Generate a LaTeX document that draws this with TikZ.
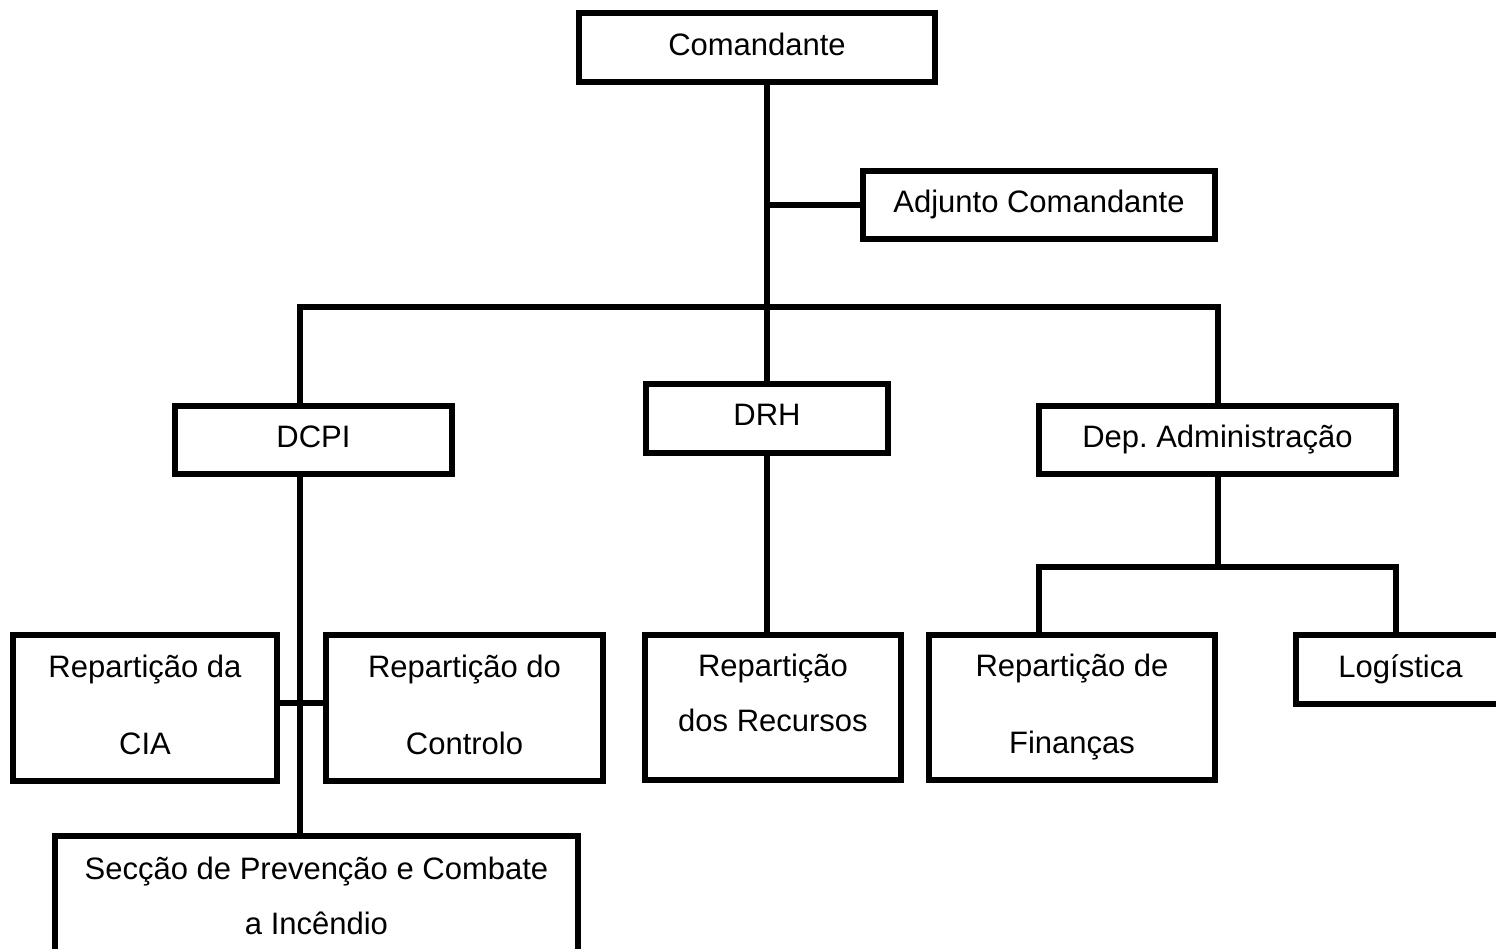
\documentclass[tikz,border=0pt]{standalone}
\usepackage{fontspec}
\setmainfont{Liberation Sans}
\usepackage{tikz}
\usepackage{xcolor}
\usetikzlibrary{positioning}

\begin{document}
\begin{tikzpicture}[x=1pt,y=1pt,
  unitBox/.style={draw=drawColor,line width=6pt,outer sep=0pt,inner sep=0pt,
    align=center,text depth=6.5pt,font=\fontsize{31}{77}\selectfont},
  tightBox/.style={unitBox,font=\fontsize{31}{55}\selectfont},
  linkLine/.style={draw=drawColor,line width=6pt,line join=miter}]
\definecolor{drawColor}{RGB}{0,0,0}
\definecolor{fillColor}{RGB}{255,255,255}
\path[use as bounding box,fill=fillColor] (0,0) rectangle (1496.00,949.00);
\begin{scope}
\path[clip] (0,0) rectangle (1496.00,949.00);

\node[unitBox,minimum width=356,minimum height=69] (cmd) at ( 757.00,901.50) {Comandante};

\node[unitBox,minimum width=352,minimum height=68] (adj) at (1039.00,744.00) {Adjunto Comandante};

\node[unitBox,minimum width=277,minimum height=68] (dcpi) at ( 313.50,509.00) {DCPI};

\node[unitBox,minimum width=242,minimum height=69] (drh) at ( 767.00,530.50) {DRH};

\node[unitBox,minimum width=357,minimum height=68] (adm) at (1217.50,509.00) {Dep.\ Administração};

\node[unitBox,minimum width=264,minimum height=146] (cia) at ( 145.00,241.00) {Repartição da\\CIA};

\node[unitBox,minimum width=277,minimum height=146] (ctl) at ( 464.50,241.00) {Repartição do\\Controlo};

\node[tightBox,minimum width=256,minimum height=145,text depth=30pt] (rec) at ( 773.00,241.50) {Repartição\\dos Recursos};

\node[unitBox,minimum width=286,minimum height=145] (fin) at (1072.00,241.50) {Repartição de\\Finanças};

\node[unitBox,minimum width=209,minimum height=69] (log) at (1400.50,279.50) {Logística};

\node[tightBox,minimum width=523,minimum height=119,text depth=0pt] (sec) at ( 316.50, 53.50) {Secção de Prevenção e Combate\\a Incêndio};

\coordinate (bus) at ( 300.00,642.00);
\coordinate (sub) at (1217.50,382.00);

% ligacoes
\path[linkLine] (cmd.south -| drh.north) -- (drh.north);

\path[linkLine] (adj.west) -- (adj.west -| drh.north);

\path[linkLine] (dcpi.north -| bus) -- (bus) -- (bus -| adm.north) -- (adm.north);

\path[linkLine] (dcpi.south -| bus) -- (sec.north -| bus);

\path[linkLine] ([yshift=5pt]cia.east) -- ([yshift=5pt]ctl.west);

\path[linkLine] (drh.south) -- (drh.south |- rec.north);

\path[linkLine] (adm.south) -- (sub);

\path[linkLine] (fin.north -| adm.west) |- (sub) -| (log.north -| adm.east);
\end{scope}
\end{tikzpicture}
\end{document}
